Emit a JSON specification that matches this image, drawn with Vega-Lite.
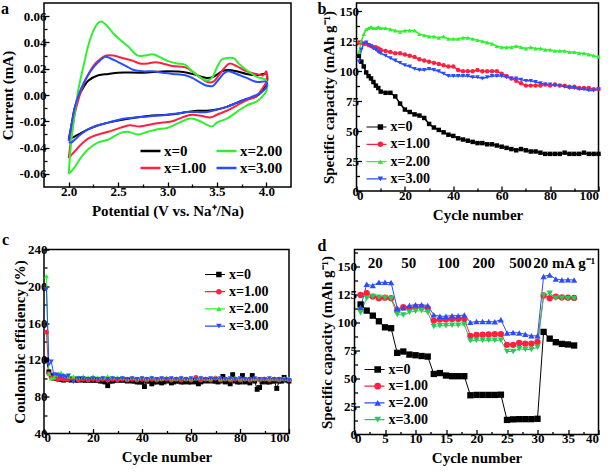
{
"$schema": "https://vega.github.io/schema/vega-lite/v6.json",
"background": "white",
"padding": {"left": 0, "top": 0, "right": 4, "bottom": 0},
"config": {
  "font": "Liberation Serif",
  "view": {"stroke": "black", "strokeWidth": 1.5},
  "axis": {"grid": false, "domain": false, "tickColor": "black", "tickSize": -5, "tickWidth": 1.3, "labelFont": "Liberation Serif", "labelFontSize": 13, "labelFontWeight": "bold", "labelColor": "black", "labelPadding": 3, "titleFont": "Liberation Serif", "titleFontSize": 15, "titleFontWeight": "bold", "titleColor": "black", "titlePadding": 3, "labelOverlap": false},
  "legend": {"labelFont": "Liberation Serif", "labelFontWeight": "bold", "labelColor": "black", "title": null, "padding": 0},
  "title": {"font": "Liberation Serif", "fontSize": 16, "fontWeight": "bold", "color": "black", "anchor": "start", "frame": "group", "baseline": "alphabetic"}
},
"datasets": {
"a": [
{"k":"x=0","i":0,"x":2.00,"y":-0.034},{"k":"x=0","i":1,"x":2.03,"y":-0.022},{"k":"x=0","i":2,"x":2.06,"y":-0.010},{"k":"x=0","i":3,"x":2.10,"y":-0.001},{"k":"x=0","i":4,"x":2.15,"y":0.006},{"k":"x=0","i":5,"x":2.20,"y":0.011},{"k":"x=0","i":6,"x":2.30,"y":0.015},{"k":"x=0","i":7,"x":2.40,"y":0.016},{"k":"x=0","i":8,"x":2.50,"y":0.017},{"k":"x=0","i":9,"x":2.75,"y":0.017},{"k":"x=0","i":10,"x":3.00,"y":0.018},{"k":"x=0","i":11,"x":3.20,"y":0.017},{"k":"x=0","i":12,"x":3.30,"y":0.015},{"k":"x=0","i":13,"x":3.40,"y":0.013},{"k":"x=0","i":14,"x":3.47,"y":0.014},{"k":"x=0","i":15,"x":3.55,"y":0.018},{"k":"x=0","i":16,"x":3.62,"y":0.019},{"k":"x=0","i":17,"x":3.70,"y":0.018},{"k":"x=0","i":18,"x":3.80,"y":0.016},{"k":"x=0","i":19,"x":3.90,"y":0.015},{"k":"x=0","i":20,"x":4.00,"y":0.016},{"k":"x=0","i":21,"x":4.00,"y":0.008},{"k":"x=0","i":22,"x":3.90,"y":-0.001},{"k":"x=0","i":23,"x":3.80,"y":-0.003},{"k":"x=0","i":24,"x":3.70,"y":-0.006},{"k":"x=0","i":25,"x":3.60,"y":-0.009},{"k":"x=0","i":26,"x":3.50,"y":-0.011},{"k":"x=0","i":27,"x":3.40,"y":-0.012},{"k":"x=0","i":28,"x":3.30,"y":-0.012},{"k":"x=0","i":29,"x":3.20,"y":-0.013},{"k":"x=0","i":30,"x":3.00,"y":-0.015},{"k":"x=0","i":31,"x":2.80,"y":-0.016},{"k":"x=0","i":32,"x":2.60,"y":-0.018},{"k":"x=0","i":33,"x":2.40,"y":-0.021},{"k":"x=0","i":34,"x":2.30,"y":-0.023},{"k":"x=0","i":35,"x":2.20,"y":-0.026},{"k":"x=0","i":36,"x":2.10,"y":-0.030},{"k":"x=0","i":37,"x":2.05,"y":-0.032},{"k":"x=0","i":38,"x":2.00,"y":-0.034},
{"k":"x=1.00","i":0,"x":2.00,"y":-0.048},{"k":"x=1.00","i":1,"x":2.03,"y":-0.030},{"k":"x=1.00","i":2,"x":2.06,"y":-0.015},{"k":"x=1.00","i":3,"x":2.10,"y":-0.003},{"k":"x=1.00","i":4,"x":2.15,"y":0.008},{"k":"x=1.00","i":5,"x":2.20,"y":0.016},{"k":"x=1.00","i":6,"x":2.27,"y":0.024},{"k":"x=1.00","i":7,"x":2.33,"y":0.028},{"k":"x=1.00","i":8,"x":2.38,"y":0.030},{"k":"x=1.00","i":9,"x":2.45,"y":0.030},{"k":"x=1.00","i":10,"x":2.55,"y":0.028},{"k":"x=1.00","i":11,"x":2.65,"y":0.026},{"k":"x=1.00","i":12,"x":2.72,"y":0.024},{"k":"x=1.00","i":13,"x":2.80,"y":0.024},{"k":"x=1.00","i":14,"x":2.88,"y":0.025},{"k":"x=1.00","i":15,"x":2.95,"y":0.024},{"k":"x=1.00","i":16,"x":3.05,"y":0.022},{"k":"x=1.00","i":17,"x":3.18,"y":0.021},{"k":"x=1.00","i":18,"x":3.25,"y":0.018},{"k":"x=1.00","i":19,"x":3.32,"y":0.014},{"k":"x=1.00","i":20,"x":3.40,"y":0.010},{"k":"x=1.00","i":21,"x":3.46,"y":0.010},{"k":"x=1.00","i":22,"x":3.52,"y":0.015},{"k":"x=1.00","i":23,"x":3.57,"y":0.020},{"k":"x=1.00","i":24,"x":3.63,"y":0.024},{"k":"x=1.00","i":25,"x":3.70,"y":0.022},{"k":"x=1.00","i":26,"x":3.80,"y":0.018},{"k":"x=1.00","i":27,"x":3.90,"y":0.016},{"k":"x=1.00","i":28,"x":3.97,"y":0.015},{"k":"x=1.00","i":29,"x":4.00,"y":0.018},{"k":"x=1.00","i":30,"x":4.00,"y":0.010},{"k":"x=1.00","i":31,"x":3.95,"y":0.004},{"k":"x=1.00","i":32,"x":3.90,"y":-0.001},{"k":"x=1.00","i":33,"x":3.80,"y":-0.004},{"k":"x=1.00","i":34,"x":3.70,"y":-0.008},{"k":"x=1.00","i":35,"x":3.60,"y":-0.012},{"k":"x=1.00","i":36,"x":3.50,"y":-0.015},{"k":"x=1.00","i":37,"x":3.44,"y":-0.017},{"k":"x=1.00","i":38,"x":3.35,"y":-0.016},{"k":"x=1.00","i":39,"x":3.25,"y":-0.015},{"k":"x=1.00","i":40,"x":3.15,"y":-0.017},{"k":"x=1.00","i":41,"x":3.05,"y":-0.020},{"k":"x=1.00","i":42,"x":2.95,"y":-0.021},{"k":"x=1.00","i":43,"x":2.85,"y":-0.022},{"k":"x=1.00","i":44,"x":2.72,"y":-0.024},{"k":"x=1.00","i":45,"x":2.62,"y":-0.023},{"k":"x=1.00","i":46,"x":2.52,"y":-0.025},{"k":"x=1.00","i":47,"x":2.40,"y":-0.028},{"k":"x=1.00","i":48,"x":2.30,"y":-0.030},{"k":"x=1.00","i":49,"x":2.20,"y":-0.033},{"k":"x=1.00","i":50,"x":2.12,"y":-0.038},{"k":"x=1.00","i":51,"x":2.06,"y":-0.043},{"k":"x=1.00","i":52,"x":2.00,"y":-0.048},
{"k":"x=2.00","i":0,"x":2.00,"y":-0.060},{"k":"x=2.00","i":1,"x":2.02,"y":-0.040},{"k":"x=2.00","i":2,"x":2.05,"y":-0.020},{"k":"x=2.00","i":3,"x":2.10,"y":0.005},{"k":"x=2.00","i":4,"x":2.15,"y":0.022},{"k":"x=2.00","i":5,"x":2.20,"y":0.038},{"k":"x=2.00","i":6,"x":2.25,"y":0.049},{"k":"x=2.00","i":7,"x":2.30,"y":0.055},{"k":"x=2.00","i":8,"x":2.33,"y":0.056},{"k":"x=2.00","i":9,"x":2.37,"y":0.054},{"k":"x=2.00","i":10,"x":2.45,"y":0.047},{"k":"x=2.00","i":11,"x":2.52,"y":0.042},{"k":"x=2.00","i":12,"x":2.60,"y":0.037},{"k":"x=2.00","i":13,"x":2.70,"y":0.030},{"k":"x=2.00","i":14,"x":2.77,"y":0.030},{"k":"x=2.00","i":15,"x":2.85,"y":0.031},{"k":"x=2.00","i":16,"x":2.92,"y":0.029},{"k":"x=2.00","i":17,"x":3.00,"y":0.026},{"k":"x=2.00","i":18,"x":3.10,"y":0.024},{"k":"x=2.00","i":19,"x":3.18,"y":0.023},{"k":"x=2.00","i":20,"x":3.25,"y":0.018},{"k":"x=2.00","i":21,"x":3.32,"y":0.014},{"k":"x=2.00","i":22,"x":3.40,"y":0.011},{"k":"x=2.00","i":23,"x":3.45,"y":0.013},{"k":"x=2.00","i":24,"x":3.50,"y":0.021},{"k":"x=2.00","i":25,"x":3.55,"y":0.027},{"k":"x=2.00","i":26,"x":3.60,"y":0.028},{"k":"x=2.00","i":27,"x":3.67,"y":0.028},{"k":"x=2.00","i":28,"x":3.72,"y":0.024},{"k":"x=2.00","i":29,"x":3.80,"y":0.019},{"k":"x=2.00","i":30,"x":3.90,"y":0.014},{"k":"x=2.00","i":31,"x":4.00,"y":0.011},{"k":"x=2.00","i":32,"x":4.00,"y":0.003},{"k":"x=2.00","i":33,"x":3.95,"y":-0.002},{"k":"x=2.00","i":34,"x":3.90,"y":-0.005},{"k":"x=2.00","i":35,"x":3.80,"y":-0.008},{"k":"x=2.00","i":36,"x":3.70,"y":-0.013},{"k":"x=2.00","i":37,"x":3.60,"y":-0.018},{"k":"x=2.00","i":38,"x":3.50,"y":-0.021},{"k":"x=2.00","i":39,"x":3.45,"y":-0.024},{"k":"x=2.00","i":40,"x":3.38,"y":-0.022},{"k":"x=2.00","i":41,"x":3.30,"y":-0.019},{"k":"x=2.00","i":42,"x":3.22,"y":-0.018},{"k":"x=2.00","i":43,"x":3.12,"y":-0.021},{"k":"x=2.00","i":44,"x":3.00,"y":-0.025},{"k":"x=2.00","i":45,"x":2.90,"y":-0.026},{"k":"x=2.00","i":46,"x":2.80,"y":-0.028},{"k":"x=2.00","i":47,"x":2.70,"y":-0.030},{"k":"x=2.00","i":48,"x":2.60,"y":-0.028},{"k":"x=2.00","i":49,"x":2.52,"y":-0.029},{"k":"x=2.00","i":50,"x":2.40,"y":-0.034},{"k":"x=2.00","i":51,"x":2.30,"y":-0.036},{"k":"x=2.00","i":52,"x":2.20,"y":-0.041},{"k":"x=2.00","i":53,"x":2.12,"y":-0.048},{"k":"x=2.00","i":54,"x":2.05,"y":-0.056},{"k":"x=2.00","i":55,"x":2.00,"y":-0.060},
{"k":"x=3.00","i":0,"x":2.00,"y":-0.035},{"k":"x=3.00","i":1,"x":2.03,"y":-0.022},{"k":"x=3.00","i":2,"x":2.06,"y":-0.010},{"k":"x=3.00","i":3,"x":2.10,"y":0.000},{"k":"x=3.00","i":4,"x":2.15,"y":0.009},{"k":"x=3.00","i":5,"x":2.22,"y":0.018},{"k":"x=3.00","i":6,"x":2.30,"y":0.025},{"k":"x=3.00","i":7,"x":2.37,"y":0.029},{"k":"x=3.00","i":8,"x":2.42,"y":0.028},{"k":"x=3.00","i":9,"x":2.50,"y":0.025},{"k":"x=3.00","i":10,"x":2.58,"y":0.022},{"k":"x=3.00","i":11,"x":2.66,"y":0.019},{"k":"x=3.00","i":12,"x":2.75,"y":0.018},{"k":"x=3.00","i":13,"x":2.85,"y":0.018},{"k":"x=3.00","i":14,"x":2.95,"y":0.017},{"k":"x=3.00","i":15,"x":3.05,"y":0.016},{"k":"x=3.00","i":16,"x":3.18,"y":0.015},{"k":"x=3.00","i":17,"x":3.25,"y":0.013},{"k":"x=3.00","i":18,"x":3.32,"y":0.010},{"k":"x=3.00","i":19,"x":3.40,"y":0.007},{"k":"x=3.00","i":20,"x":3.46,"y":0.007},{"k":"x=3.00","i":21,"x":3.52,"y":0.012},{"k":"x=3.00","i":22,"x":3.58,"y":0.017},{"k":"x=3.00","i":23,"x":3.62,"y":0.018},{"k":"x=3.00","i":24,"x":3.70,"y":0.016},{"k":"x=3.00","i":25,"x":3.80,"y":0.013},{"k":"x=3.00","i":26,"x":3.90,"y":0.010},{"k":"x=3.00","i":27,"x":4.00,"y":0.010},{"k":"x=3.00","i":28,"x":4.00,"y":0.006},{"k":"x=3.00","i":29,"x":3.95,"y":0.002},{"k":"x=3.00","i":30,"x":3.90,"y":0.000},{"k":"x=3.00","i":31,"x":3.80,"y":-0.003},{"k":"x=3.00","i":32,"x":3.70,"y":-0.006},{"k":"x=3.00","i":33,"x":3.60,"y":-0.009},{"k":"x=3.00","i":34,"x":3.50,"y":-0.011},{"k":"x=3.00","i":35,"x":3.40,"y":-0.013},{"k":"x=3.00","i":36,"x":3.30,"y":-0.013},{"k":"x=3.00","i":37,"x":3.20,"y":-0.013},{"k":"x=3.00","i":38,"x":3.10,"y":-0.014},{"k":"x=3.00","i":39,"x":3.00,"y":-0.015},{"k":"x=3.00","i":40,"x":2.85,"y":-0.016},{"k":"x=3.00","i":41,"x":2.70,"y":-0.017},{"k":"x=3.00","i":42,"x":2.55,"y":-0.018},{"k":"x=3.00","i":43,"x":2.40,"y":-0.021},{"k":"x=3.00","i":44,"x":2.30,"y":-0.023},{"k":"x=3.00","i":45,"x":2.20,"y":-0.026},{"k":"x=3.00","i":46,"x":2.12,"y":-0.030},{"k":"x=3.00","i":47,"x":2.06,"y":-0.034},{"k":"x=3.00","i":48,"x":2.03,"y":-0.036},{"k":"x=3.00","i":49,"x":2.00,"y":-0.036}
],
"b": [
{"k":"x=0","c":1,"v":113},{"k":"x=0","c":2,"v":108},{"k":"x=0","c":3,"v":104},{"k":"x=0","c":4,"v":99},{"k":"x=0","c":5,"v":96},{"k":"x=0","c":6,"v":94},{"k":"x=0","c":7,"v":91},{"k":"x=0","c":8,"v":88},{"k":"x=0","c":9,"v":86},{"k":"x=0","c":10,"v":83},{"k":"x=0","c":12,"v":82},{"k":"x=0","c":14,"v":82},{"k":"x=0","c":16,"v":79},{"k":"x=0","c":18,"v":73},{"k":"x=0","c":20,"v":68},{"k":"x=0","c":22,"v":66},{"k":"x=0","c":24,"v":64},{"k":"x=0","c":26,"v":63},{"k":"x=0","c":28,"v":61},{"k":"x=0","c":30,"v":56},{"k":"x=0","c":32,"v":53},{"k":"x=0","c":34,"v":51},{"k":"x=0","c":36,"v":49},{"k":"x=0","c":38,"v":47},{"k":"x=0","c":40,"v":46},{"k":"x=0","c":42,"v":44},{"k":"x=0","c":44,"v":43},{"k":"x=0","c":46,"v":42},{"k":"x=0","c":48,"v":41},{"k":"x=0","c":50,"v":40},{"k":"x=0","c":52,"v":40},{"k":"x=0","c":54,"v":39},{"k":"x=0","c":56,"v":39},{"k":"x=0","c":58,"v":38},{"k":"x=0","c":60,"v":37},{"k":"x=0","c":62,"v":36},{"k":"x=0","c":64,"v":35},{"k":"x=0","c":66,"v":34},{"k":"x=0","c":68,"v":35},{"k":"x=0","c":70,"v":34},{"k":"x=0","c":72,"v":33},{"k":"x=0","c":74,"v":33},{"k":"x=0","c":76,"v":32},{"k":"x=0","c":78,"v":31},{"k":"x=0","c":80,"v":31},{"k":"x=0","c":82,"v":31},{"k":"x=0","c":84,"v":31},{"k":"x=0","c":86,"v":32},{"k":"x=0","c":88,"v":31},{"k":"x=0","c":90,"v":31},{"k":"x=0","c":92,"v":31},{"k":"x=0","c":94,"v":32},{"k":"x=0","c":96,"v":31},{"k":"x=0","c":98,"v":31},{"k":"x=0","c":100,"v":31},
{"k":"x=1.00","c":1,"v":124},{"k":"x=1.00","c":2,"v":124},{"k":"x=1.00","c":3,"v":123},{"k":"x=1.00","c":4,"v":123},{"k":"x=1.00","c":5,"v":122},{"k":"x=1.00","c":6,"v":121},{"k":"x=1.00","c":7,"v":120},{"k":"x=1.00","c":8,"v":120},{"k":"x=1.00","c":9,"v":119},{"k":"x=1.00","c":10,"v":118},{"k":"x=1.00","c":12,"v":117},{"k":"x=1.00","c":14,"v":116},{"k":"x=1.00","c":16,"v":115},{"k":"x=1.00","c":18,"v":115},{"k":"x=1.00","c":20,"v":114},{"k":"x=1.00","c":22,"v":113},{"k":"x=1.00","c":24,"v":112},{"k":"x=1.00","c":26,"v":110},{"k":"x=1.00","c":28,"v":109},{"k":"x=1.00","c":30,"v":108},{"k":"x=1.00","c":32,"v":107},{"k":"x=1.00","c":34,"v":106},{"k":"x=1.00","c":36,"v":105},{"k":"x=1.00","c":38,"v":104},{"k":"x=1.00","c":40,"v":104},{"k":"x=1.00","c":42,"v":101},{"k":"x=1.00","c":44,"v":100},{"k":"x=1.00","c":46,"v":100},{"k":"x=1.00","c":48,"v":100},{"k":"x=1.00","c":50,"v":101},{"k":"x=1.00","c":52,"v":100},{"k":"x=1.00","c":54,"v":100},{"k":"x=1.00","c":56,"v":100},{"k":"x=1.00","c":58,"v":100},{"k":"x=1.00","c":60,"v":98},{"k":"x=1.00","c":62,"v":96},{"k":"x=1.00","c":64,"v":94},{"k":"x=1.00","c":66,"v":92},{"k":"x=1.00","c":68,"v":90},{"k":"x=1.00","c":70,"v":88},{"k":"x=1.00","c":72,"v":88},{"k":"x=1.00","c":74,"v":88},{"k":"x=1.00","c":76,"v":88},{"k":"x=1.00","c":78,"v":89},{"k":"x=1.00","c":80,"v":88},{"k":"x=1.00","c":82,"v":89},{"k":"x=1.00","c":84,"v":88},{"k":"x=1.00","c":86,"v":88},{"k":"x=1.00","c":88,"v":87},{"k":"x=1.00","c":90,"v":87},{"k":"x=1.00","c":92,"v":86},{"k":"x=1.00","c":94,"v":86},{"k":"x=1.00","c":96,"v":86},{"k":"x=1.00","c":98,"v":85},{"k":"x=1.00","c":100,"v":85},
{"k":"x=2.00","c":1,"v":116},{"k":"x=2.00","c":2,"v":125},{"k":"x=2.00","c":3,"v":131},{"k":"x=2.00","c":4,"v":135},{"k":"x=2.00","c":5,"v":136},{"k":"x=2.00","c":6,"v":137},{"k":"x=2.00","c":7,"v":136},{"k":"x=2.00","c":8,"v":136},{"k":"x=2.00","c":9,"v":137},{"k":"x=2.00","c":10,"v":136},{"k":"x=2.00","c":12,"v":136},{"k":"x=2.00","c":14,"v":135},{"k":"x=2.00","c":16,"v":134},{"k":"x=2.00","c":18,"v":133},{"k":"x=2.00","c":20,"v":134},{"k":"x=2.00","c":22,"v":134},{"k":"x=2.00","c":24,"v":134},{"k":"x=2.00","c":26,"v":131},{"k":"x=2.00","c":28,"v":130},{"k":"x=2.00","c":30,"v":129},{"k":"x=2.00","c":32,"v":129},{"k":"x=2.00","c":34,"v":128},{"k":"x=2.00","c":36,"v":129},{"k":"x=2.00","c":38,"v":127},{"k":"x=2.00","c":40,"v":127},{"k":"x=2.00","c":42,"v":127},{"k":"x=2.00","c":44,"v":128},{"k":"x=2.00","c":46,"v":128},{"k":"x=2.00","c":48,"v":127},{"k":"x=2.00","c":50,"v":126},{"k":"x=2.00","c":52,"v":125},{"k":"x=2.00","c":54,"v":124},{"k":"x=2.00","c":56,"v":123},{"k":"x=2.00","c":58,"v":121},{"k":"x=2.00","c":60,"v":120},{"k":"x=2.00","c":62,"v":120},{"k":"x=2.00","c":64,"v":120},{"k":"x=2.00","c":66,"v":121},{"k":"x=2.00","c":68,"v":120},{"k":"x=2.00","c":70,"v":119},{"k":"x=2.00","c":72,"v":120},{"k":"x=2.00","c":74,"v":119},{"k":"x=2.00","c":76,"v":119},{"k":"x=2.00","c":78,"v":118},{"k":"x=2.00","c":80,"v":118},{"k":"x=2.00","c":82,"v":117},{"k":"x=2.00","c":84,"v":117},{"k":"x=2.00","c":86,"v":117},{"k":"x=2.00","c":88,"v":116},{"k":"x=2.00","c":90,"v":116},{"k":"x=2.00","c":92,"v":115},{"k":"x=2.00","c":94,"v":115},{"k":"x=2.00","c":96,"v":114},{"k":"x=2.00","c":98,"v":113},{"k":"x=2.00","c":100,"v":112},
{"k":"x=3.00","c":1,"v":108},{"k":"x=3.00","c":2,"v":118},{"k":"x=3.00","c":3,"v":123},{"k":"x=3.00","c":4,"v":124},{"k":"x=3.00","c":5,"v":122},{"k":"x=3.00","c":6,"v":121},{"k":"x=3.00","c":7,"v":119},{"k":"x=3.00","c":8,"v":118},{"k":"x=3.00","c":9,"v":116},{"k":"x=3.00","c":10,"v":115},{"k":"x=3.00","c":12,"v":113},{"k":"x=3.00","c":14,"v":111},{"k":"x=3.00","c":16,"v":109},{"k":"x=3.00","c":18,"v":107},{"k":"x=3.00","c":20,"v":105},{"k":"x=3.00","c":22,"v":104},{"k":"x=3.00","c":24,"v":102},{"k":"x=3.00","c":26,"v":101},{"k":"x=3.00","c":28,"v":101},{"k":"x=3.00","c":30,"v":102},{"k":"x=3.00","c":32,"v":101},{"k":"x=3.00","c":34,"v":100},{"k":"x=3.00","c":36,"v":98},{"k":"x=3.00","c":38,"v":96},{"k":"x=3.00","c":40,"v":96},{"k":"x=3.00","c":42,"v":96},{"k":"x=3.00","c":44,"v":96},{"k":"x=3.00","c":46,"v":96},{"k":"x=3.00","c":48,"v":95},{"k":"x=3.00","c":50,"v":95},{"k":"x=3.00","c":52,"v":94},{"k":"x=3.00","c":54,"v":95},{"k":"x=3.00","c":56,"v":96},{"k":"x=3.00","c":58,"v":96},{"k":"x=3.00","c":60,"v":96},{"k":"x=3.00","c":62,"v":95},{"k":"x=3.00","c":64,"v":94},{"k":"x=3.00","c":66,"v":94},{"k":"x=3.00","c":68,"v":93},{"k":"x=3.00","c":70,"v":92},{"k":"x=3.00","c":72,"v":92},{"k":"x=3.00","c":74,"v":91},{"k":"x=3.00","c":76,"v":90},{"k":"x=3.00","c":78,"v":89},{"k":"x=3.00","c":80,"v":89},{"k":"x=3.00","c":82,"v":88},{"k":"x=3.00","c":84,"v":88},{"k":"x=3.00","c":86,"v":87},{"k":"x=3.00","c":88,"v":86},{"k":"x=3.00","c":90,"v":86},{"k":"x=3.00","c":92,"v":85},{"k":"x=3.00","c":94,"v":85},{"k":"x=3.00","c":96,"v":84},{"k":"x=3.00","c":98,"v":84},{"k":"x=3.00","c":100,"v":85}
],
"c": [
{"k":"x=0","c":1,"v":120},{"k":"x=0","c":2,"v":107},{"k":"x=0","c":3,"v":103},{"k":"x=0","c":4,"v":100},{"k":"x=0","c":5,"v":100},{"k":"x=0","c":6,"v":99},{"k":"x=0","c":7,"v":99},{"k":"x=0","c":8,"v":98},{"k":"x=0","c":9,"v":99},{"k":"x=0","c":10,"v":99},{"k":"x=0","c":11,"v":98},{"k":"x=0","c":12,"v":99},{"k":"x=0","c":13,"v":98},{"k":"x=0","c":14,"v":98},{"k":"x=0","c":15,"v":99},{"k":"x=0","c":16,"v":98},{"k":"x=0","c":17,"v":98},{"k":"x=0","c":18,"v":98},{"k":"x=0","c":19,"v":98},{"k":"x=0","c":20,"v":98},{"k":"x=0","c":21,"v":98},{"k":"x=0","c":22,"v":98},{"k":"x=0","c":23,"v":97},{"k":"x=0","c":24,"v":97},{"k":"x=0","c":25,"v":96},{"k":"x=0","c":26,"v":92},{"k":"x=0","c":27,"v":97},{"k":"x=0","c":28,"v":97},{"k":"x=0","c":29,"v":98},{"k":"x=0","c":30,"v":98},{"k":"x=0","c":31,"v":98},{"k":"x=0","c":32,"v":98},{"k":"x=0","c":33,"v":98},{"k":"x=0","c":34,"v":97},{"k":"x=0","c":35,"v":98},{"k":"x=0","c":36,"v":97},{"k":"x=0","c":37,"v":97},{"k":"x=0","c":38,"v":96},{"k":"x=0","c":39,"v":96},{"k":"x=0","c":40,"v":96},{"k":"x=0","c":41,"v":91},{"k":"x=0","c":42,"v":97},{"k":"x=0","c":43,"v":97},{"k":"x=0","c":44,"v":94},{"k":"x=0","c":45,"v":96},{"k":"x=0","c":46,"v":96},{"k":"x=0","c":47,"v":97},{"k":"x=0","c":48,"v":95},{"k":"x=0","c":49,"v":96},{"k":"x=0","c":50,"v":98},{"k":"x=0","c":51,"v":97},{"k":"x=0","c":52,"v":95},{"k":"x=0","c":53,"v":96},{"k":"x=0","c":54,"v":97},{"k":"x=0","c":55,"v":97},{"k":"x=0","c":56,"v":96},{"k":"x=0","c":57,"v":96},{"k":"x=0","c":58,"v":97},{"k":"x=0","c":59,"v":96},{"k":"x=0","c":60,"v":96},{"k":"x=0","c":61,"v":97},{"k":"x=0","c":62,"v":96},{"k":"x=0","c":63,"v":94},{"k":"x=0","c":64,"v":96},{"k":"x=0","c":65,"v":97},{"k":"x=0","c":66,"v":98},{"k":"x=0","c":67,"v":97},{"k":"x=0","c":68,"v":98},{"k":"x=0","c":69,"v":97},{"k":"x=0","c":70,"v":97},{"k":"x=0","c":71,"v":96},{"k":"x=0","c":72,"v":97},{"k":"x=0","c":73,"v":102},{"k":"x=0","c":74,"v":96},{"k":"x=0","c":75,"v":97},{"k":"x=0","c":76,"v":94},{"k":"x=0","c":77,"v":104},{"k":"x=0","c":78,"v":97},{"k":"x=0","c":79,"v":96},{"k":"x=0","c":80,"v":96},{"k":"x=0","c":81,"v":103},{"k":"x=0","c":82,"v":96},{"k":"x=0","c":83,"v":97},{"k":"x=0","c":84,"v":95},{"k":"x=0","c":85,"v":103},{"k":"x=0","c":86,"v":97},{"k":"x=0","c":87,"v":88},{"k":"x=0","c":88,"v":90},{"k":"x=0","c":89,"v":96},{"k":"x=0","c":90,"v":97},{"k":"x=0","c":91,"v":96},{"k":"x=0","c":92,"v":96},{"k":"x=0","c":93,"v":97},{"k":"x=0","c":94,"v":97},{"k":"x=0","c":95,"v":89},{"k":"x=0","c":96,"v":97},{"k":"x=0","c":97,"v":97},{"k":"x=0","c":98,"v":101},{"k":"x=0","c":99,"v":98},{"k":"x=0","c":100,"v":97},
{"k":"x=1.00","c":1,"v":150},{"k":"x=1.00","c":2,"v":105},{"k":"x=1.00","c":3,"v":101},{"k":"x=1.00","c":4,"v":100},{"k":"x=1.00","c":5,"v":100},{"k":"x=1.00","c":6,"v":99},{"k":"x=1.00","c":7,"v":100},{"k":"x=1.00","c":8,"v":99},{"k":"x=1.00","c":9,"v":99},{"k":"x=1.00","c":10,"v":99},{"k":"x=1.00","c":12,"v":99},{"k":"x=1.00","c":14,"v":98},{"k":"x=1.00","c":16,"v":99},{"k":"x=1.00","c":18,"v":98},{"k":"x=1.00","c":20,"v":99},{"k":"x=1.00","c":22,"v":98},{"k":"x=1.00","c":24,"v":99},{"k":"x=1.00","c":26,"v":98},{"k":"x=1.00","c":28,"v":99},{"k":"x=1.00","c":30,"v":98},{"k":"x=1.00","c":32,"v":99},{"k":"x=1.00","c":34,"v":98},{"k":"x=1.00","c":36,"v":99},{"k":"x=1.00","c":38,"v":98},{"k":"x=1.00","c":40,"v":99},{"k":"x=1.00","c":42,"v":98},{"k":"x=1.00","c":44,"v":99},{"k":"x=1.00","c":46,"v":98},{"k":"x=1.00","c":48,"v":99},{"k":"x=1.00","c":50,"v":99},{"k":"x=1.00","c":52,"v":98},{"k":"x=1.00","c":54,"v":99},{"k":"x=1.00","c":56,"v":98},{"k":"x=1.00","c":58,"v":99},{"k":"x=1.00","c":60,"v":98},{"k":"x=1.00","c":62,"v":101},{"k":"x=1.00","c":64,"v":98},{"k":"x=1.00","c":66,"v":99},{"k":"x=1.00","c":68,"v":98},{"k":"x=1.00","c":70,"v":100},{"k":"x=1.00","c":72,"v":98},{"k":"x=1.00","c":74,"v":99},{"k":"x=1.00","c":76,"v":98},{"k":"x=1.00","c":78,"v":99},{"k":"x=1.00","c":80,"v":98},{"k":"x=1.00","c":82,"v":99},{"k":"x=1.00","c":84,"v":98},{"k":"x=1.00","c":86,"v":99},{"k":"x=1.00","c":88,"v":98},{"k":"x=1.00","c":90,"v":99},{"k":"x=1.00","c":92,"v":98},{"k":"x=1.00","c":94,"v":99},{"k":"x=1.00","c":96,"v":98},{"k":"x=1.00","c":98,"v":99},{"k":"x=1.00","c":100,"v":98},
{"k":"x=2.00","c":1,"v":211},{"k":"x=2.00","c":2,"v":105},{"k":"x=2.00","c":3,"v":100},{"k":"x=2.00","c":4,"v":101},{"k":"x=2.00","c":5,"v":104},{"k":"x=2.00","c":6,"v":105},{"k":"x=2.00","c":7,"v":106},{"k":"x=2.00","c":8,"v":104},{"k":"x=2.00","c":9,"v":103},{"k":"x=2.00","c":10,"v":102},{"k":"x=2.00","c":12,"v":102},{"k":"x=2.00","c":14,"v":101},{"k":"x=2.00","c":16,"v":102},{"k":"x=2.00","c":18,"v":101},{"k":"x=2.00","c":20,"v":102},{"k":"x=2.00","c":22,"v":101},{"k":"x=2.00","c":24,"v":101},{"k":"x=2.00","c":26,"v":102},{"k":"x=2.00","c":28,"v":101},{"k":"x=2.00","c":30,"v":101},{"k":"x=2.00","c":32,"v":101},{"k":"x=2.00","c":34,"v":100},{"k":"x=2.00","c":36,"v":101},{"k":"x=2.00","c":38,"v":100},{"k":"x=2.00","c":40,"v":101},{"k":"x=2.00","c":42,"v":100},{"k":"x=2.00","c":44,"v":101},{"k":"x=2.00","c":46,"v":100},{"k":"x=2.00","c":48,"v":100},{"k":"x=2.00","c":50,"v":101},{"k":"x=2.00","c":52,"v":100},{"k":"x=2.00","c":54,"v":100},{"k":"x=2.00","c":56,"v":101},{"k":"x=2.00","c":58,"v":100},{"k":"x=2.00","c":60,"v":100},{"k":"x=2.00","c":62,"v":100},{"k":"x=2.00","c":64,"v":101},{"k":"x=2.00","c":66,"v":100},{"k":"x=2.00","c":68,"v":100},{"k":"x=2.00","c":70,"v":101},{"k":"x=2.00","c":72,"v":100},{"k":"x=2.00","c":74,"v":100},{"k":"x=2.00","c":76,"v":100},{"k":"x=2.00","c":78,"v":101},{"k":"x=2.00","c":80,"v":100},{"k":"x=2.00","c":82,"v":100},{"k":"x=2.00","c":84,"v":100},{"k":"x=2.00","c":86,"v":100},{"k":"x=2.00","c":88,"v":100},{"k":"x=2.00","c":90,"v":100},{"k":"x=2.00","c":92,"v":100},{"k":"x=2.00","c":94,"v":100},{"k":"x=2.00","c":96,"v":100},{"k":"x=2.00","c":98,"v":100},{"k":"x=2.00","c":100,"v":100},
{"k":"x=3.00","c":1,"v":197},{"k":"x=3.00","c":2,"v":115},{"k":"x=3.00","c":3,"v":118},{"k":"x=3.00","c":4,"v":104},{"k":"x=3.00","c":5,"v":104},{"k":"x=3.00","c":6,"v":103},{"k":"x=3.00","c":7,"v":102},{"k":"x=3.00","c":8,"v":102},{"k":"x=3.00","c":9,"v":101},{"k":"x=3.00","c":10,"v":103},{"k":"x=3.00","c":12,"v":96},{"k":"x=3.00","c":14,"v":100},{"k":"x=3.00","c":16,"v":100},{"k":"x=3.00","c":18,"v":99},{"k":"x=3.00","c":20,"v":100},{"k":"x=3.00","c":22,"v":99},{"k":"x=3.00","c":24,"v":100},{"k":"x=3.00","c":26,"v":99},{"k":"x=3.00","c":28,"v":100},{"k":"x=3.00","c":30,"v":99},{"k":"x=3.00","c":32,"v":100},{"k":"x=3.00","c":34,"v":99},{"k":"x=3.00","c":36,"v":100},{"k":"x=3.00","c":38,"v":99},{"k":"x=3.00","c":40,"v":100},{"k":"x=3.00","c":42,"v":99},{"k":"x=3.00","c":44,"v":100},{"k":"x=3.00","c":46,"v":99},{"k":"x=3.00","c":48,"v":100},{"k":"x=3.00","c":50,"v":99},{"k":"x=3.00","c":52,"v":100},{"k":"x=3.00","c":54,"v":99},{"k":"x=3.00","c":56,"v":100},{"k":"x=3.00","c":58,"v":99},{"k":"x=3.00","c":60,"v":100},{"k":"x=3.00","c":62,"v":99},{"k":"x=3.00","c":64,"v":100},{"k":"x=3.00","c":66,"v":99},{"k":"x=3.00","c":68,"v":100},{"k":"x=3.00","c":70,"v":99},{"k":"x=3.00","c":72,"v":100},{"k":"x=3.00","c":74,"v":99},{"k":"x=3.00","c":76,"v":100},{"k":"x=3.00","c":78,"v":99},{"k":"x=3.00","c":80,"v":100},{"k":"x=3.00","c":82,"v":99},{"k":"x=3.00","c":84,"v":99},{"k":"x=3.00","c":86,"v":100},{"k":"x=3.00","c":88,"v":99},{"k":"x=3.00","c":90,"v":99},{"k":"x=3.00","c":92,"v":100},{"k":"x=3.00","c":94,"v":99},{"k":"x=3.00","c":96,"v":99},{"k":"x=3.00","c":98,"v":98},{"k":"x=3.00","c":100,"v":98}
],
"d": [
{"k":"x=0","c":1,"v":116},{"k":"x=0","c":2,"v":110.5},{"k":"x=0","c":3,"v":106},{"k":"x=0","c":4,"v":101},{"k":"x=0","c":5,"v":95.6},{"k":"x=0","c":6,"v":94.8},{"k":"x=0","c":7,"v":72.8},{"k":"x=0","c":8,"v":74},{"k":"x=0","c":9,"v":71.3},{"k":"x=0","c":10,"v":70.7},{"k":"x=0","c":11,"v":70},{"k":"x=0","c":12,"v":69.5},{"k":"x=0","c":13,"v":54},{"k":"x=0","c":14,"v":54.8},{"k":"x=0","c":15,"v":52.6},{"k":"x=0","c":16,"v":52},{"k":"x=0","c":17,"v":52},{"k":"x=0","c":18,"v":52},{"k":"x=0","c":19,"v":35},{"k":"x=0","c":20,"v":35.3},{"k":"x=0","c":21,"v":35.3},{"k":"x=0","c":22,"v":35.3},{"k":"x=0","c":23,"v":35.3},{"k":"x=0","c":24,"v":35.5},{"k":"x=0","c":25,"v":13},{"k":"x=0","c":26,"v":13.5},{"k":"x=0","c":27,"v":13.7},{"k":"x=0","c":28,"v":13.7},{"k":"x=0","c":29,"v":13.7},{"k":"x=0","c":30,"v":14},{"k":"x=0","c":31,"v":91.5},{"k":"x=0","c":32,"v":85.5},{"k":"x=0","c":33,"v":82.3},{"k":"x=0","c":34,"v":80.8},{"k":"x=0","c":35,"v":80.3},{"k":"x=0","c":36,"v":79.4},
{"k":"x=1.00","c":1,"v":124.5},{"k":"x=1.00","c":2,"v":126},{"k":"x=1.00","c":3,"v":123},{"k":"x=1.00","c":4,"v":121.5},{"k":"x=1.00","c":5,"v":122},{"k":"x=1.00","c":6,"v":121.5},{"k":"x=1.00","c":7,"v":110.5},{"k":"x=1.00","c":8,"v":113.5},{"k":"x=1.00","c":9,"v":112.5},{"k":"x=1.00","c":10,"v":113.5},{"k":"x=1.00","c":11,"v":113.5},{"k":"x=1.00","c":12,"v":112.6},{"k":"x=1.00","c":13,"v":101.6},{"k":"x=1.00","c":14,"v":102.5},{"k":"x=1.00","c":15,"v":102.5},{"k":"x=1.00","c":16,"v":103},{"k":"x=1.00","c":17,"v":103},{"k":"x=1.00","c":18,"v":103},{"k":"x=1.00","c":19,"v":88},{"k":"x=1.00","c":20,"v":88.8},{"k":"x=1.00","c":21,"v":89},{"k":"x=1.00","c":22,"v":89.3},{"k":"x=1.00","c":23,"v":89.5},{"k":"x=1.00","c":24,"v":89.5},{"k":"x=1.00","c":25,"v":80},{"k":"x=1.00","c":26,"v":80},{"k":"x=1.00","c":27,"v":81.7},{"k":"x=1.00","c":28,"v":81},{"k":"x=1.00","c":29,"v":81},{"k":"x=1.00","c":30,"v":82.5},{"k":"x=1.00","c":31,"v":124},{"k":"x=1.00","c":32,"v":121.5},{"k":"x=1.00","c":33,"v":123},{"k":"x=1.00","c":34,"v":122.3},{"k":"x=1.00","c":35,"v":122},{"k":"x=1.00","c":36,"v":121.8},
{"k":"x=2.00","c":1,"v":113.5},{"k":"x=2.00","c":2,"v":134},{"k":"x=2.00","c":3,"v":132.8},{"k":"x=2.00","c":4,"v":135.7},{"k":"x=2.00","c":5,"v":135.7},{"k":"x=2.00","c":6,"v":135.5},{"k":"x=2.00","c":7,"v":112.6},{"k":"x=2.00","c":8,"v":113},{"k":"x=2.00","c":9,"v":115},{"k":"x=2.00","c":10,"v":115.8},{"k":"x=2.00","c":11,"v":115.8},{"k":"x=2.00","c":12,"v":115},{"k":"x=2.00","c":13,"v":106.7},{"k":"x=2.00","c":14,"v":105.5},{"k":"x=2.00","c":15,"v":105.5},{"k":"x=2.00","c":16,"v":106},{"k":"x=2.00","c":17,"v":106},{"k":"x=2.00","c":18,"v":106.5},{"k":"x=2.00","c":19,"v":100},{"k":"x=2.00","c":20,"v":100.7},{"k":"x=2.00","c":21,"v":100.7},{"k":"x=2.00","c":22,"v":100.7},{"k":"x=2.00","c":23,"v":100.5},{"k":"x=2.00","c":24,"v":102.4},{"k":"x=2.00","c":25,"v":90.6},{"k":"x=2.00","c":26,"v":91},{"k":"x=2.00","c":27,"v":90.6},{"k":"x=2.00","c":28,"v":89.4},{"k":"x=2.00","c":29,"v":88},{"k":"x=2.00","c":30,"v":88},{"k":"x=2.00","c":31,"v":141},{"k":"x=2.00","c":32,"v":142.3},{"k":"x=2.00","c":33,"v":138.7},{"k":"x=2.00","c":34,"v":137.8},{"k":"x=2.00","c":35,"v":138},{"k":"x=2.00","c":36,"v":137.8},
{"k":"x=3.00","c":1,"v":108.5},{"k":"x=3.00","c":2,"v":121.5},{"k":"x=3.00","c":3,"v":123},{"k":"x=3.00","c":4,"v":122.5},{"k":"x=3.00","c":5,"v":122},{"k":"x=3.00","c":6,"v":121},{"k":"x=3.00","c":7,"v":107},{"k":"x=3.00","c":8,"v":106.5},{"k":"x=3.00","c":9,"v":109},{"k":"x=3.00","c":10,"v":110},{"k":"x=3.00","c":11,"v":110.5},{"k":"x=3.00","c":12,"v":109},{"k":"x=3.00","c":13,"v":96.3},{"k":"x=3.00","c":14,"v":97},{"k":"x=3.00","c":15,"v":97},{"k":"x=3.00","c":16,"v":97.5},{"k":"x=3.00","c":17,"v":97.5},{"k":"x=3.00","c":18,"v":98},{"k":"x=3.00","c":19,"v":83.5},{"k":"x=3.00","c":20,"v":84},{"k":"x=3.00","c":21,"v":84},{"k":"x=3.00","c":22,"v":84},{"k":"x=3.00","c":23,"v":84},{"k":"x=3.00","c":24,"v":84},{"k":"x=3.00","c":25,"v":74},{"k":"x=3.00","c":26,"v":74},{"k":"x=3.00","c":27,"v":76.4},{"k":"x=3.00","c":28,"v":75.8},{"k":"x=3.00","c":29,"v":75.8},{"k":"x=3.00","c":30,"v":77.8},{"k":"x=3.00","c":31,"v":124},{"k":"x=3.00","c":32,"v":126},{"k":"x=3.00","c":33,"v":121.5},{"k":"x=3.00","c":34,"v":121.5},{"k":"x=3.00","c":35,"v":121},{"k":"x=3.00","c":36,"v":121}
],
"dlab": [
{"t":"20","c":3.4,"v":153},{"t":"50","c":8.9,"v":153},{"t":"100","c":15.4,"v":153},{"t":"200","c":21.2,"v":153},{"t":"500","c":27.2,"v":153},{"t":"20 mA g⁻¹","c":34.4,"v":153}
]
},
"resolve": {"scale": {"color": "independent", "shape": "independent", "stroke": "independent"}},
"spacing": 7.5,
"vconcat": [
{
"hconcat": [
{
"width": 247, "height": 184,
"title": {"text": "a", "dx": -43, "offset": -14},
"data": {"name": "a"},
"mark": {"type": "line", "strokeWidth": 2, "interpolate": "catmull-rom"},
"encoding": {
  "x": {"field": "x", "type": "quantitative", "scale": {"domain": [1.75, 4.25], "nice": false}, "axis": {"values": [2, 2.25, 2.5, 2.75, 3, 3.25, 3.5, 3.75, 4], "labelExpr": "(datum.value*2) % 1 === 0 ? format(datum.value, '.1f') : ''", "tickSize": {"condition": {"test": "(datum.value*2) % 1 === 0", "value": -5}, "value": -3}, "title": "Potential (V vs. Na⁺/Na)"}},
  "y": {"field": "y", "type": "quantitative", "scale": {"domain": [-0.07, 0.07], "nice": false}, "axis": {"values": [-0.06, -0.05, -0.04, -0.03, -0.02, -0.01, 0, 0.01, 0.02, 0.03, 0.04, 0.05, 0.06], "labelExpr": "round(datum.value*100) % 2 === 0 ? replace(format(datum.value, '.2f'), '−', '-') : ''", "tickSize": {"condition": {"test": "round(datum.value*100) % 2 === 0", "value": -5}, "value": -3}, "title": "Current (mA)"}},
  "color": {"field": "k", "type": "nominal", "scale": {"domain": ["x=0", "x=1.00", "x=2.00", "x=3.00"], "range": ["#000000", "#ff2040", "#2ef02e", "#2a4cff"]}, "legend": {"orient": "none", "legendX": 95, "legendY": 140, "columns": 2, "symbolType": "stroke", "symbolSize": 400, "symbolStrokeWidth": 2.5, "labelFontSize": 15, "columnPadding": 8, "rowPadding": 1, "clipHeight": 16, "labelOffset": 2}},
  "order": {"field": "i", "type": "quantitative"}
}
},
{
"width": 242, "height": 188,
"title": {"text": "b", "dx": -39, "offset": -14},
"data": {"name": "b"},
"encoding": {
  "x": {"field": "c", "type": "quantitative", "scale": {"domain": [0, 100], "nice": false}, "axis": {"values": [0, 10, 20, 30, 40, 50, 60, 70, 80, 90, 100], "labelExpr": "datum.value % 20 === 0 ? datum.label : ''", "tickSize": {"condition": {"test": "datum.value % 20 === 0", "value": -5}, "value": -3}, "title": "Cycle number"}},
  "y": {"field": "v", "type": "quantitative", "scale": {"domain": [0, 157], "nice": false}, "axis": {"values": [0, 12.5, 25, 37.5, 50, 62.5, 75, 87.5, 100, 112.5, 125, 137.5, 150], "labelExpr": "datum.value % 25 === 0 ? format(datum.value, 'd') : ''", "tickSize": {"condition": {"test": "datum.value % 25 === 0", "value": -5}, "value": -3}, "title": "Specific capacity (mAh g⁻¹)"}}
},
"layer": [
  {"mark": {"type": "line", "strokeWidth": 1.5},
   "encoding": {"stroke": {"field": "k", "type": "nominal", "scale": {"range": ["#000000", "#ff2040", "#2ef02e", "#2a4cff"]}, "legend": {"orient": "none", "legendX": 9, "legendY": 117, "symbolType": "stroke", "symbolSize": 400, "symbolStrokeWidth": 1.2, "labelFontSize": 14, "clipHeight": 14, "rowPadding": 3.3, "labelOffset": 3}}}},
  {"mark": {"type": "point", "filled": true, "size": 20, "opacity": 1},
   "encoding": {
     "color": {"field": "k", "type": "nominal", "scale": {"domain": ["x=0", "x=1.00", "x=2.00", "x=3.00"], "range": ["#000000", "#ff2040", "#2ef02e", "#2a4cff"]}, "legend": {"orient": "none", "legendX": 9, "legendY": 117, "symbolSize": 30, "symbolOffset": 7.9, "labelOpacity": 0, "labelFontSize": 14, "clipHeight": 14, "rowPadding": 3.3, "labelOffset": 3}},
     "shape": {"field": "k", "type": "nominal", "scale": {"domain": ["x=0", "x=1.00", "x=2.00", "x=3.00"], "range": ["square", "circle", "triangle-up", "triangle-down"]}, "legend": {"orient": "none", "legendX": 9, "legendY": 117, "symbolSize": 30, "symbolOffset": 7.9, "labelOpacity": 0, "labelFontSize": 14, "clipHeight": 14, "rowPadding": 3.3, "labelOffset": 3}}}}
]
}
],
"spacing": 24.5,
"resolve": {"scale": {"color": "independent", "shape": "independent", "stroke": "independent"}}
},
{
"hconcat": [
{
"width": 245, "height": 184,
"title": {"text": "c", "dx": -42, "offset": -4},
"data": {"name": "c"},
"encoding": {
  "x": {"field": "c", "type": "quantitative", "scale": {"domain": [0, 100], "nice": false}, "axis": {"values": [0, 10, 20, 30, 40, 50, 60, 70, 80, 90, 100], "labelExpr": "datum.value % 20 === 0 ? datum.label : ''", "tickSize": {"condition": {"test": "datum.value % 20 === 0", "value": -5}, "value": -3}, "title": "Cycle number"}},
  "y": {"field": "v", "type": "quantitative", "scale": {"domain": [40, 240], "nice": false}, "axis": {"values": [40, 60, 80, 100, 120, 140, 160, 180, 200, 220, 240], "labelExpr": "datum.value % 40 === 0 ? datum.label : ''", "tickSize": {"condition": {"test": "datum.value % 40 === 0", "value": -5}, "value": -3}, "title": "Coulombic efficiency (%)", "labelPadding": 2, "titlePadding": 0}}
},
"layer": [
  {"mark": {"type": "line", "strokeWidth": 1},
   "encoding": {"stroke": {"field": "k", "type": "nominal", "scale": {"range": ["#000000", "#ff2040", "#2ef02e", "#2a4cff"]}, "legend": {"orient": "none", "legendX": 160, "legendY": 18, "symbolType": "stroke", "symbolSize": 400, "symbolStrokeWidth": 1.2, "labelFontSize": 14, "clipHeight": 14, "rowPadding": 3.2, "labelOffset": 3}}}},
  {"mark": {"type": "point", "filled": true, "size": 24, "opacity": 1},
   "encoding": {
     "color": {"field": "k", "type": "nominal", "scale": {"domain": ["x=0", "x=1.00", "x=2.00", "x=3.00"], "range": ["#000000", "#ff2040", "#2ef02e", "#2a4cff"]}, "legend": {"orient": "none", "legendX": 160, "legendY": 18, "symbolSize": 30, "symbolOffset": 7.9, "labelOpacity": 0, "labelFontSize": 14, "clipHeight": 14, "rowPadding": 3.2, "labelOffset": 3}},
     "shape": {"field": "k", "type": "nominal", "scale": {"domain": ["x=0", "x=1.00", "x=2.00", "x=3.00"], "range": ["square", "circle", "triangle-up", "triangle-down"]}, "legend": {"orient": "none", "legendX": 160, "legendY": 18, "symbolSize": 30, "symbolOffset": 7.9, "labelOpacity": 0, "labelFontSize": 14, "clipHeight": 14, "rowPadding": 3.2, "labelOffset": 3}}}}
]
},
{
"width": 244, "height": 185,
"title": {"text": "d", "dx": -37, "offset": -8},
"data": {"name": "d"},
"encoding": {
  "x": {"field": "c", "type": "quantitative", "scale": {"domain": [0, 40], "nice": false}, "axis": {"values": [0, 2.5, 5, 7.5, 10, 12.5, 15, 17.5, 20, 22.5, 25, 27.5, 30, 32.5, 35, 37.5, 40], "labelExpr": "datum.value % 5 === 0 ? format(datum.value, 'd') : ''", "tickSize": {"condition": {"test": "datum.value % 5 === 0", "value": -5}, "value": -3}, "title": "Cycle number"}},
  "y": {"field": "v", "type": "quantitative", "scale": {"domain": [0, 165], "nice": false}, "axis": {"values": [0, 12.5, 25, 37.5, 50, 62.5, 75, 87.5, 100, 112.5, 125, 137.5, 150, 162.5], "labelExpr": "datum.value % 25 === 0 ? format(datum.value, 'd') : ''", "tickSize": {"condition": {"test": "datum.value % 25 === 0", "value": -5}, "value": -3}, "title": "Specific capacity (mAh g⁻¹)"}}
},
"layer": [
  {"mark": {"type": "line", "strokeWidth": 1},
   "encoding": {"stroke": {"field": "k", "type": "nominal", "scale": {"range": ["#000000", "#ff2040", "#2a4cff", "#22cc55"]}, "legend": {"orient": "none", "legendX": 9, "legendY": 113, "symbolType": "stroke", "symbolSize": 400, "symbolStrokeWidth": 1.2, "labelFontSize": 14, "clipHeight": 14, "rowPadding": 2.7, "labelOffset": 3}}}},
  {"mark": {"type": "point", "filled": true, "size": 40, "opacity": 1},
   "encoding": {
     "color": {"field": "k", "type": "nominal", "scale": {"domain": ["x=0", "x=1.00", "x=2.00", "x=3.00"], "range": ["#000000", "#ff2040", "#2a4cff", "#22cc55"]}, "legend": {"orient": "none", "legendX": 9, "legendY": 113, "symbolSize": 45, "symbolOffset": 7.2, "labelOpacity": 0, "labelFontSize": 14, "clipHeight": 14, "rowPadding": 2.7, "labelOffset": 3}},
     "shape": {"field": "k", "type": "nominal", "scale": {"domain": ["x=0", "x=1.00", "x=2.00", "x=3.00"], "range": ["square", "circle", "triangle-up", "triangle-down"]}, "legend": {"orient": "none", "legendX": 9, "legendY": 113, "symbolSize": 45, "symbolOffset": 7.2, "labelOpacity": 0, "labelFontSize": 14, "clipHeight": 14, "rowPadding": 2.7, "labelOffset": 3}}}},
  {"data": {"name": "dlab"}, "mark": {"type": "text", "fontSize": 15, "fontWeight": "bold", "font": "Liberation Serif", "baseline": "middle", "color": "black"}, "encoding": {"text": {"field": "t", "type": "nominal"}}}
]
}
],
"spacing": 23.5,
"resolve": {"scale": {"color": "independent", "shape": "independent", "stroke": "independent"}}
}
]
}
